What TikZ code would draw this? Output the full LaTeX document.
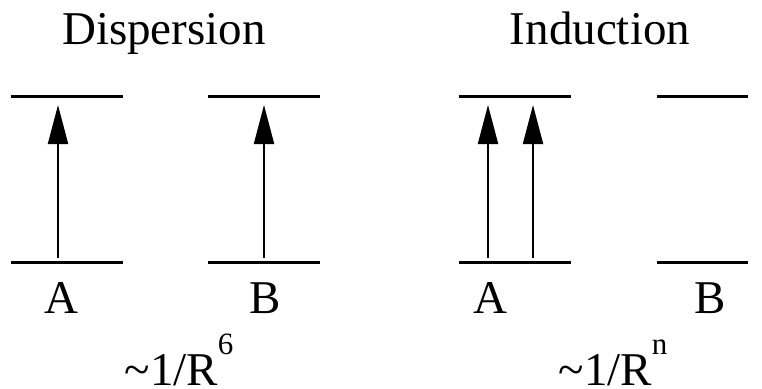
\documentclass[tikz,border=0pt]{standalone}
\usepackage{fontspec}
\setmainfont{Liberation Serif}
\usetikzlibrary{arrows.meta}
\newcommand{\bigfont}{\fontsize{47}{52}\selectfont}
\newcommand{\tl}{\symbol{"7E}}
\newcommand{\supr}[1]{\raisebox{31pt}{\fontsize{31}{34}\selectfont #1}}
\begin{document}
\begin{tikzpicture}[x=1pt,y=-1pt,
  level/.style={line width=3pt},
  excite/.style={line width=2pt,-{Triangle[length=39pt,width=20pt]}},
  lbl/.style={anchor=base,inner sep=0pt,font=\bigfont}]
\useasboundingbox (0,0) rectangle (762,388);
% titles
\node[lbl] (t1) at (164,44) {Dispersion};
\node[lbl] (t2) at (600,44) {Induction};
% levels
\coordinate (a1tl) at (11,96); \coordinate (a1tr) at (123,96);
\coordinate (a1bl) at (11,262); \coordinate (a1br) at (123,262);
\coordinate (b1tl) at (208,96); \coordinate (b1tr) at (320,96);
\coordinate (b1bl) at (208,262); \coordinate (b1br) at (320,262);
\coordinate (a2tl) at (459,96); \coordinate (a2tr) at (571,96);
\coordinate (a2bl) at (459,262); \coordinate (a2br) at (571,262);
\coordinate (b2tl) at (657,96); \coordinate (b2tr) at (748,96);
\coordinate (b2bl) at (657,262); \coordinate (b2br) at (748,262);
\foreach \p in {a1,b1,a2,b2}{
  \draw[level] (\p tl) -- (\p tr);
  \draw[level] (\p bl) -- (\p br);
}
% arrows
\coordinate (s1) at (58,258); \coordinate (e1) at (58,105);
\coordinate (s2) at (264,258); \coordinate (e2) at (264,105);
\coordinate (s3) at (488,258); \coordinate (e3) at (488,105);
\coordinate (s4) at (533,258); \coordinate (e4) at (533,105);
\foreach \i in {1,2,3,4}{\draw[excite] (s\i) -- (e\i);}
% labels
\node[lbl] (la1) at (61,313) {A};
\node[lbl] (lb1) at (265,313) {B};
\node[lbl] (la2) at (490,313) {A};
\node[lbl] (lb2) at (710,313) {B};
\node[lbl] (f1) at (179,385) {\tl1/R\supr{6}};
\node[lbl] (f2) at (613,385) {\tl1/R\supr{n}};
\end{tikzpicture}
\end{document}
